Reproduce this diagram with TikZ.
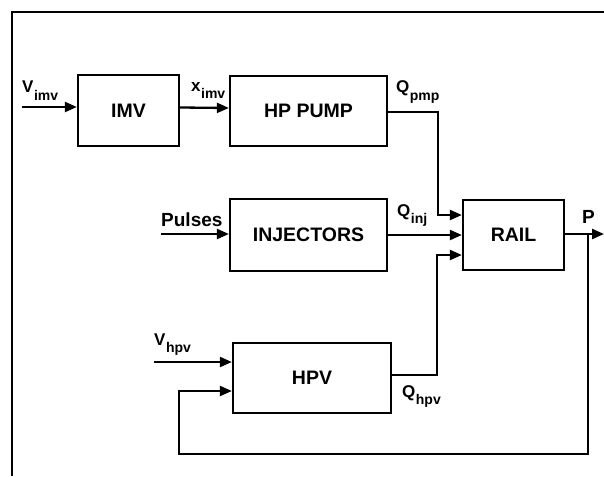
\documentclass[tikz,border=0pt]{standalone}
\usepackage{fontspec}
\setmainfont{Liberation Sans}
\usetikzlibrary{arrows.meta}
\newcommand\sgl[2]{#1\kern0.5pt\raisebox{-7pt}{\fontsize{14}{14}\selectfont #2}}
\begin{document}
\begin{tikzpicture}[x=1pt,y=-1pt,
  blk/.style={draw,line width=2.3pt,inner sep=0pt,font=\bfseries\fontsize{19.5}{19.5}\selectfont},
  sig/.style={line width=2.3pt,-{Triangle[length=12pt,width=10pt]}},
  lbl/.style={font=\bfseries\fontsize{17}{17}\selectfont,inner sep=0pt,anchor=base west},
  big/.style={font=\bfseries\fontsize{19}{19}\selectfont,inner sep=0pt,anchor=base west}]
\useasboundingbox (0,0) rectangle (604,476);
\draw[line width=1.2pt] (12,476) -- (12,12) -- (604,12);

\node[blk,minimum width=101pt,minimum height=71pt] (imv) at (128.5,110.5) {IMV};
\node[blk,minimum width=157pt,minimum height=70pt] (pump) at (308.5,111) {HP PUMP};
\node[blk,minimum width=157pt,minimum height=72pt] (inj) at (308.5,235) {INJECTORS};
\node[blk,minimum width=101pt,minimum height=70pt] (rail) at (513.5,235) {RAIL};
\node[blk,minimum width=158pt,minimum height=70pt] (hpv) at (312,378) {HPV};

\coordinate (vin) at (22,107);
\coordinate (pin) at (161,234);
\coordinate (hin) at (154,362);
\coordinate (pout) at (604,234);
\coordinate (fb1) at (588,234);
\coordinate (fb2) at (588,454);
\coordinate (fb3) at (179,454);
\coordinate (qp) at (438,112);
\coordinate (qh) at (437,375);

\draw[sig] (vin) -- (vin -| imv.west);
\draw[sig] ([yshift=3pt]imv.east) -- ([yshift=3pt]pump.west);
\draw[sig] (pump.east |- qp) -- (qp) -- (qp |- 0,215) -- ([yshift=20pt]rail.west);
\draw[sig] (inj.east) -- (rail.west);
\draw[sig] (pin) -- (pin -| inj.west);
\draw[sig] (hpv.east |- qh) -- (qh) -- (qh |- 0,255) -- ([yshift=-20pt]rail.west);
\draw[sig] (hin) -- (hin -| hpv.west);
\draw[sig] (rail.east |- pout) -- (pout);
\draw[sig] (fb1) -- (fb2) -- (fb3) -- (fb3 |- 0,391) -- ([yshift=-13pt]hpv.west);

\node[lbl] (lvimv) at (22,93) {\sgl{V}{imv}};
\node[lbl] (lximv) at (191,92) {\sgl{x}{imv}};
\node[lbl] (lqpmp) at (396,93) {\sgl{Q}{pmp}};
\node[lbl] (lqinj) at (397,216) {\sgl{Q}{inj}};
\node[lbl] (lqhpv) at (402,397) {\sgl{Q}{hpv}};
\node[lbl] (lvhpv) at (154,345) {\sgl{V}{hpv}};
\node[big] (lpul) at (161,226) {Pulses};
\node[big] (lp) at (582,223) {P};
\end{tikzpicture}
\end{document}
